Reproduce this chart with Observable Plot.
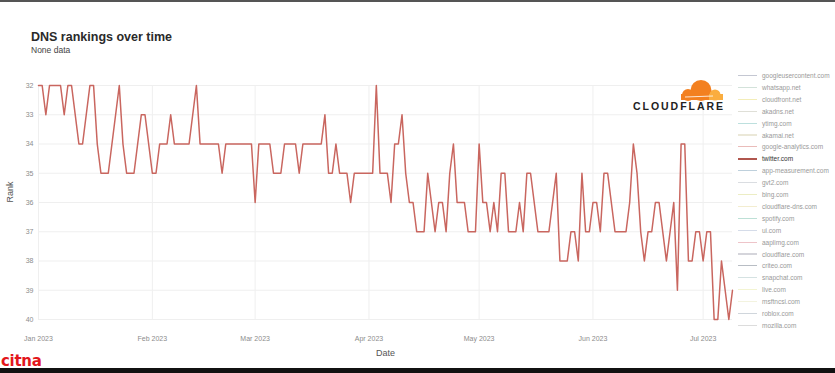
<!DOCTYPE html>
<html><head><meta charset="utf-8">
<script src="https://cdn.jsdelivr.net/npm/d3@7"></script>
<script src="https://cdn.jsdelivr.net/npm/@observablehq/plot@0.6"></script>
<style>
html,body{margin:0;padding:0;background:#fff;}
#wrap{position:relative;width:835px;height:373px;overflow:hidden;background:#fff;font-family:"Liberation Sans",Arial,sans-serif;}
#topbar{position:absolute;left:0;top:0;width:835px;height:2px;background:#555;}
#bottombar{position:absolute;left:0;top:368px;width:835px;height:5px;background:#111;}
#title{position:absolute;left:31px;top:30px;font-size:12.5px;font-weight:bold;color:#2a2a2a;white-space:nowrap;}
#subtitle{position:absolute;left:31px;top:45px;font-size:8.5px;color:#444;white-space:nowrap;}
#chart{position:absolute;left:0;top:62px;}
#legend{position:absolute;left:0;top:0;}
.lrow{position:absolute;left:738px;height:10px;display:flex;align-items:center;white-space:nowrap;}
.lline{width:19px;height:1.2px;margin-right:5px;}
.ltext{font-size:6.5px;color:#999;}
#logo{position:absolute;left:625px;top:72px;}
#citna{position:absolute;left:1px;top:352px;font-size:15px;font-weight:bold;color:#e3171c;letter-spacing:-0.3px;font-family:"DejaVu Sans",sans-serif;}
</style></head><body>
<div id="wrap">
 <div id="topbar"></div>
 <div id="title">DNS rankings over time</div>
 <div id="subtitle">None data</div>
 <div id="chart"></div>
 <div id="legend"></div>
 <svg id="logo" width="105" height="42" viewBox="0 0 105 42">
  <g>
   <circle cx="76" cy="18.5" r="10.5" fill="#f38020"/>
   <circle cx="63" cy="23" r="6" fill="#f38020"/>
   <rect x="56" y="22" width="36" height="6" fill="#f38020"/>
   <circle cx="90" cy="23" r="5.5" fill="#faad3f"/>
   <rect x="84" y="22" width="14" height="6" fill="#faad3f"/>
   <path d="M60 25 L88 24" stroke="#fff" stroke-width="0.8"/>
  </g>
  <text x="8" y="38" font-family="Liberation Sans, Arial, sans-serif" font-weight="bold" font-size="10.5" fill="#222" textLength="90" lengthAdjust="spacing">CLOUDFLARE</text>
 </svg>
 <div id="citna">citna</div>
 <div id="bottombar"></div>
</div>
<script>
// ---- data ----
const startDay = "2023-01-01";
const ranks = [
 32,32,33,32,32,32,32,33,32,32,
 33,34,34,33,32,32,34,35,35,35,
 34,33,32,34,35,35,35,34,33,33,
 34,35,35,34,34,34,33,34,34,34,
 34,34,33,32,34,34,34,34,34,34,
 35,34,34,34,34,34,34,34,34,36,
 34,34,34,34,35,35,35,34,34,34,
 34,35,34,34,34,34,34,34,33,35,
 35,34,35,35,35,36,35,35,35,35,
 35,35,32,35,35,35,36,34,34,33,
 35,36,36,37,37,37,35,36,37,36,
 36,37,35,34,36,36,36,37,37,37,
 34,36,36,37,36,37,35,35,37,37,
 37,36,37,35,35,36,37,37,37,37,
 36,35,38,38,38,37,37,38,35,37,
 37,36,36,37,35,35,36,37,37,37,
 37,36,34,35,37,38,37,37,36,36,
 37,38,37,36,39,34,34,38,38,37,
 37,38,37,37,40,40,38,39,40,39
];
const monthTicks = ["2023-01-01","2023-02-01","2023-03-01","2023-04-01","2023-05-01","2023-06-01","2023-07-01"];
const monthLabels = ["Jan 2023","Feb 2023","Mar 2023","Apr 2023","May 2023","Jun 2023","Jul 2023"];
const rankTicks = [32,33,34,35,36,37,38,39,40];
const legendDomains = ["googleusercontent.com","whatsapp.net","cloudfront.net","akadns.net","ytimg.com","akamai.net","google-analytics.com","twitter.com","app-measurement.com","gvt2.com","bing.com","cloudflare-dns.com","spotify.com","ui.com","aaplimg.com","cloudflare.com","criteo.com","snapchat.com","live.com","msftncsi.com","roblox.com","mozilla.com"];
const legendColors = ["#c4c7d2","#d3e2da","#f3edb8","#dfdfd7","#bde0de","#ebe8d8","#eabcba","#b0564e","#bed0dc","#dadde1","#ecedc4","#f3edd0","#bde0d6","#d5dce9","#eec4c9","#d5d5db","#b8bdc4","#d5e2e2","#f3f4d2","#f3f3df","#d0d6dc","#dcdcdc"];
const highlighted = "twitter.com";
const lineColor = "#c9665f";

// ---- build ----
const dates = ranks.map((_, i) => d3.utcDay.offset(new Date(startDay), i));
const data = ranks.map((r, i) => ({date: dates[i], rank: r, domain: highlighted}));
const tickDates = monthTicks.map(d => new Date(d));

const chart = Plot.plot({
  width: 740, height: 300,
  marginLeft: 38, marginRight: 8, marginTop: 23, marginBottom: 43,
  style: {fontFamily: "Liberation Sans, Arial, sans-serif", fontSize: "7px", color: "#8c8c8c", background: "transparent", overflow: "visible"},
  x: {type: "utc", domain: [dates[0], dates[dates.length - 1]]},
  y: {domain: [32, 40], reverse: true},
  marks: [
    Plot.gridX(tickDates, {stroke: "#efefef", strokeOpacity: 1}),
    Plot.gridY(rankTicks, {stroke: "#efefef", strokeOpacity: 1}),
    Plot.axisX(tickDates, {tickSize: 0, tickPadding: 17, label: null,
      tickFormat: d => monthLabels[tickDates.findIndex(t => +t === +d)]}),
    Plot.axisY(rankTicks, {tickSize: 0, tickPadding: 5, label: null}),
    Plot.text(["Date"], {frameAnchor: "bottom", dy: 36, fontSize: 9, fill: "#555"}),
    Plot.text(["Rank"], {frameAnchor: "left", dx: -28, rotate: -90, fontSize: 9, fill: "#555"}),
    Plot.lineY(data, {x: "date", y: "rank", stroke: lineColor, strokeWidth: 1.5})
  ]
});
document.getElementById("chart").appendChild(chart);

const legend = document.getElementById("legend");
legendDomains.forEach((name, i) => {
  const row = document.createElement("div");
  row.className = "lrow";
  row.style.top = (75.5 + 11.9 * i - 5) + "px";
  const ln = document.createElement("span");
  ln.className = "lline";
  ln.style.background = legendColors[i];
  if (name === highlighted) ln.style.height = "1.6px";
  const tx = document.createElement("span");
  tx.className = "ltext";
  tx.textContent = name;
  if (name === highlighted) tx.style.color = "#333";
  row.appendChild(ln); row.appendChild(tx);
  legend.appendChild(row);
});
</script>
</body></html>
